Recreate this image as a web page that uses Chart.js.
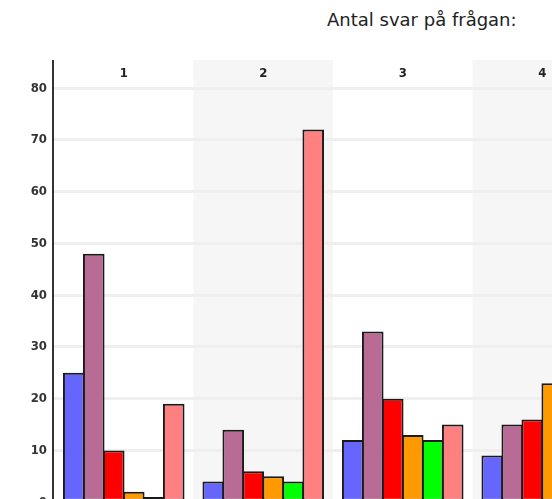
<!DOCTYPE html>
<html>
<head>
<meta charset="utf-8">
<script src="https://cdn.jsdelivr.net/npm/chart.js@4"></script>
<style>
  html, body { margin: 0; padding: 0; background: #fff; overflow: hidden; width: 552px; height: 499px; }
  #title { position: absolute; left: 327px; top: 9px; font: 18px "DejaVu Sans", Verdana, sans-serif; color: #222; white-space: nowrap; }
  #wrap { position: absolute; left: 0; top: 0; width: 612px; height: 517px; }
</style>
</head>
<body>
<div id="title">Antal svar på frågan:</div>
<div id="wrap"><canvas id="c"></canvas></div>
<script>
const categories = ["1", "2", "3", "4"];
const seriesA = [25, 4, 12, 9];
const seriesB = [48, 14, 33, 15];
const seriesC = [10, 6, 20, 16];
const seriesD = [2, 5, 13, 23];
const seriesE = [1, 4, 12, 11];
const seriesF = [19, 72, 15, 8];
const yTicks = [0, 10, 20, 30, 40, 50, 60, 70, 80];

const colors = ["#6666ff", "#b86b94", "#ff0000", "#ff9900", "#00ff00", "#ff8080"];
const allSeries = [seriesA, seriesB, seriesC, seriesD, seriesE, seriesF];

const tickFont = { family: "'Liberation Sans Narrow', 'DejaVu Sans Condensed', 'Arial Narrow', sans-serif", size: 13, weight: "bold" };

const bandsPlugin = {
  id: "bands",
  beforeDraw(chart) {
    const { ctx, chartArea } = chart;
    const x = chart.scales.x;
    const top = 60;
    ctx.save();
    ctx.fillStyle = "#f6f6f6";
    const half = (x.getPixelForValue(1) - x.getPixelForValue(0)) / 2;
    for (let i = 0; i < categories.length; i++) {
      if (i % 2 === 1) {
        const c = x.getPixelForValue(i);
        ctx.fillRect(c - half, top, half * 2, chartArea.bottom - top + 20);
      }
    }
    ctx.restore();
  },
  afterDraw(chart) {
    const { ctx, chartArea } = chart;
    ctx.save();
    ctx.strokeStyle = "#333";
    ctx.lineWidth = 2;
    ctx.beginPath();
    ctx.moveTo(chartArea.left - 1, 60);
    ctx.lineTo(chartArea.left - 1, chartArea.bottom + 20);
    ctx.stroke();
    ctx.restore();
  }
};

new Chart(document.getElementById("c"), {
  type: "bar",
  data: {
    labels: categories,
    datasets: allSeries.map((s, i) => ({
      data: s,
      backgroundColor: colors[i],
      borderColor: "#1a1a1a",
      borderWidth: 2,
      borderSkipped: false,
      inflateAmount: 0,
      categoryPercentage: 0.86,
      barPercentage: 1.08
    }))
  },
  options: {
    responsive: true,
    maintainAspectRatio: false,
    animation: false,
    layout: { padding: { top: 60, left: 0, right: 0, bottom: 12 } },
    plugins: { legend: { display: false }, tooltip: { enabled: false }, title: { display: false } },
    scales: {
      x: {
        position: "top",
        grid: { display: false, drawTicks: false },
        border: { display: false },
        ticks: { color: "#222", font: tickFont, padding: 2, maxRotation: 0 },
        afterFit(scale) { scale.height = 23; }
      },
      y: {
        min: 0,
        max: 81,
        afterBuildTicks(scale) { scale.ticks = yTicks.map(v => ({ value: v })); },
        afterFit(scale) { scale.width = 54; },
        grid: { color: "#efefef", lineWidth: 3, drawTicks: false },
        border: { display: false },
        ticks: { color: "#333", font: tickFont, padding: 7 }
      }
    }
  },
  plugins: [bandsPlugin]
});
</script>
</body>
</html>
